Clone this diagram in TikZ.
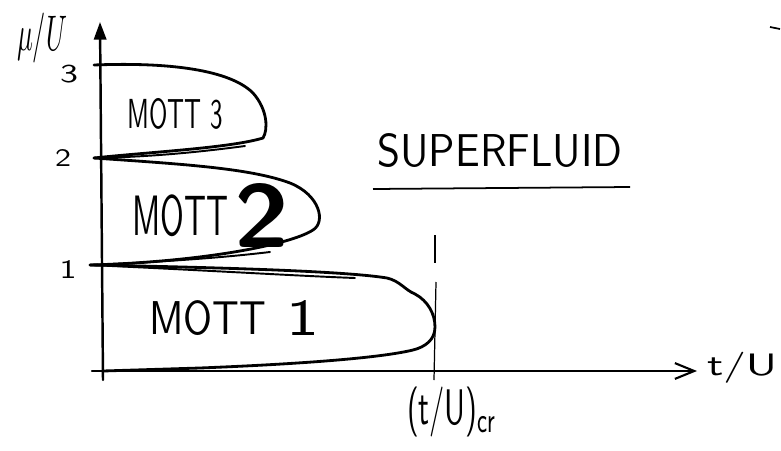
\documentclass[tikz,border=0pt]{standalone}
\usetikzlibrary{arrows.meta}
\usepackage{graphicx}
\newcommand{\lbx}[3]{\resizebox*{#1}{#2}{#3}}
\begin{document}
\begin{tikzpicture}[x=0.02cm,y=-0.02cm,
  lobe/.style={line width=1.6pt, line cap=round, line join=round},
  lobeb/.style={line width=1.1pt, line cap=round},
  axisline/.style={line width=1.4pt, line cap=round},
  crit/.style={line width=0.7pt},
  lbl/.style={inner sep=0pt, font=\sffamily}]
\useasboundingbox (0,0) rectangle (781,450);
\fill[white] (0,0) rectangle (781,450);
% coordinates
\coordinate (O) at (103,371);
\coordinate (ys) at (103,380);
\coordinate (Ytop) at (100,22);
\coordinate (xs) at (92,371);
\coordinate (Xend) at (697,371);
\coordinate (m3) at (94,65);
\coordinate (m2) at (94,158);
\coordinate (m1) at (90,265);
\coordinate (v1) at (435,235);
\coordinate (v2) at (435,263);
\coordinate (v3) at (436,282);
\coordinate (v4) at (434,380);
\coordinate (s1) at (770,27);
\coordinate (s2) at (780,29);
\coordinate (u1) at (373,189);
\coordinate (u2) at (630,187);
% axes
\draw[axisline, -{Triangle[length=10pt,width=7pt]}] (ys) -- (Ytop);
\draw[axisline, -{Straight Barb[length=11pt,width=9pt,line width=1.2pt]}] (xs) -- (Xend);
% Mott 3 lobe
\draw[lobe] (m3) .. controls (170,62) and (230,70) .. (253,93)
  .. controls (268,110) and (268,130) .. (263,138)
  .. controls (230,148) and (150,152) .. (m2);
\draw[lobeb] (m2) .. controls (150,157) and (200,152) .. (245,146);
% Mott 2 lobe
\draw[lobe] (m2) .. controls (180,164) and (250,168) .. (290,183)
  .. controls (320,195) and (326,222) .. (313,230)
  .. controls (290,245) and (200,262) .. (m1);
\draw[lobeb] (m1) .. controls (160,262) and (220,258) .. (270,252);
% Mott 1 lobe
\draw[lobe] (m1) .. controls (250,268) and (350,272) .. (387,278)
  .. controls (400,281) and (405,290) .. (415,294)
  .. controls (428,301) and (435,314) .. (435,327)
  .. controls (435,340) and (425,347) .. (413,350)
  .. controls (380,358) and (300,364) .. (200,368)
  -- (O);
\draw[lobeb] (m1) .. controls (200,270) and (300,276) .. (355,278);
% critical line
\draw[crit] (v1) -- (v2);
\draw[crit] (v3) -- (v4);
% stray mark
\draw[line width=1pt] (s1) -- (s2);
% labels
\node[lbl] (mulab) at (42,38) {\lbx{1.0cm}{1.0cm}{$\mu/U$}};
\node[lbl] (t3) at (69,74) {\lbx{0.36cm}{0.36cm}{3}};
\node[lbl] (t2) at (63,158) {\lbx{0.32cm}{0.34cm}{2}};
\node[lbl] (t1) at (68,269) {\lbx{0.34cm}{0.36cm}{1}};
\node[lbl] (mott3) at (175,114) {\lbx{1.9cm}{0.62cm}{MOTT 3}};
\node[lbl] (mott2) at (180,216) {\lbx{1.92cm}{0.84cm}{MOTT}};
\node[lbl] (two) at (262,215) {\lbx{1.1cm}{1.28cm}{\bfseries 2}};
\node[lbl] (mott1) at (208,318) {\lbx{2.34cm}{0.7cm}{MOTT}};
\node[lbl] (one) at (303,318) {\lbx{0.66cm}{0.7cm}{1}};
\node[lbl] (sf) at (500,151) {\lbx{4.9cm}{0.68cm}{SUPERFLUID}};
\draw[line width=1pt] (u1) -- (u2);
\node[lbl] (tucr) at (452,412) {\lbx{1.8cm}{1.0cm}{(t/U)\textsubscript{cr}}};
\node[lbl] (tu) at (742,368) {\lbx{1.4cm}{0.62cm}{t/U}};
\end{tikzpicture}
\end{document}
